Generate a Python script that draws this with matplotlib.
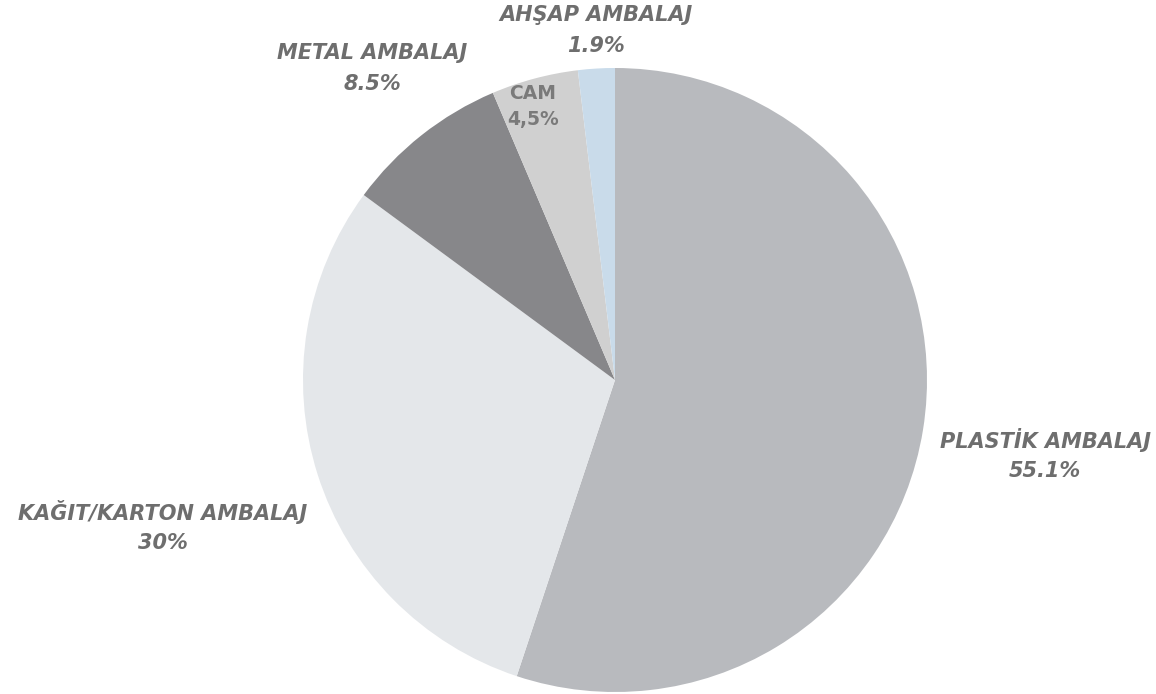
import matplotlib.pyplot as plt

labels = ['PLASTİK AMBALAJ', 'KAĞIT/KARTON AMBALAJ', 'METAL AMBALAJ', 'CAM', 'AHŞAP AMBALAJ']
pct_text = ['55.1%', '30%', '8.5%', '4,5%', '1.9%']
shares = [55.1, 30.0, 8.5, 4.5, 1.9]
colors = ['#b8babe', '#e4e7ea', '#87878a', '#d0d0d0', '#c9dbea']

W, H = 1156, 694
fig = plt.figure(figsize=(W / 100, H / 100), dpi=100)
ax = fig.add_axes([0, 0, 1, 1])

ax.pie(shares, colors=colors, startangle=90, counterclock=False,
       center=(615, H - 380), radius=312, frame=True,
       wedgeprops=dict(linewidth=0))
ax.set_xlim(0, W)
ax.set_ylim(0, H)
ax.set_aspect('equal')
ax.axis('off')

# label anchor points (pixel coords from top-left)
label_pos = [(1045, 440), (163, 512), (372, 53), (533, 93), (596, 15)]
txt_color = '#6e6e6e'
for i, (x, y) in enumerate(label_pos):
    if labels[i] == 'CAM':
        ax.text(x, H - y, labels[i], ha='center', va='center', fontsize=13.5,
                fontweight='bold', color='#7a7a7a', family='DejaVu Sans')
        ax.text(x, H - y - 26, pct_text[i], ha='center', va='center', fontsize=13.5,
                fontweight='bold', color='#7a7a7a', family='DejaVu Sans')
    else:
        ax.text(x, H - y, labels[i], ha='center', va='center', fontsize=15,
                fontweight='bold', style='italic', color=txt_color, family='DejaVu Sans')
        ax.text(x, H - y - 31, pct_text[i], ha='center', va='center', fontsize=15,
                fontweight='bold', style='italic', color=txt_color, family='DejaVu Sans')

fig.savefig('out.png', dpi=100)
